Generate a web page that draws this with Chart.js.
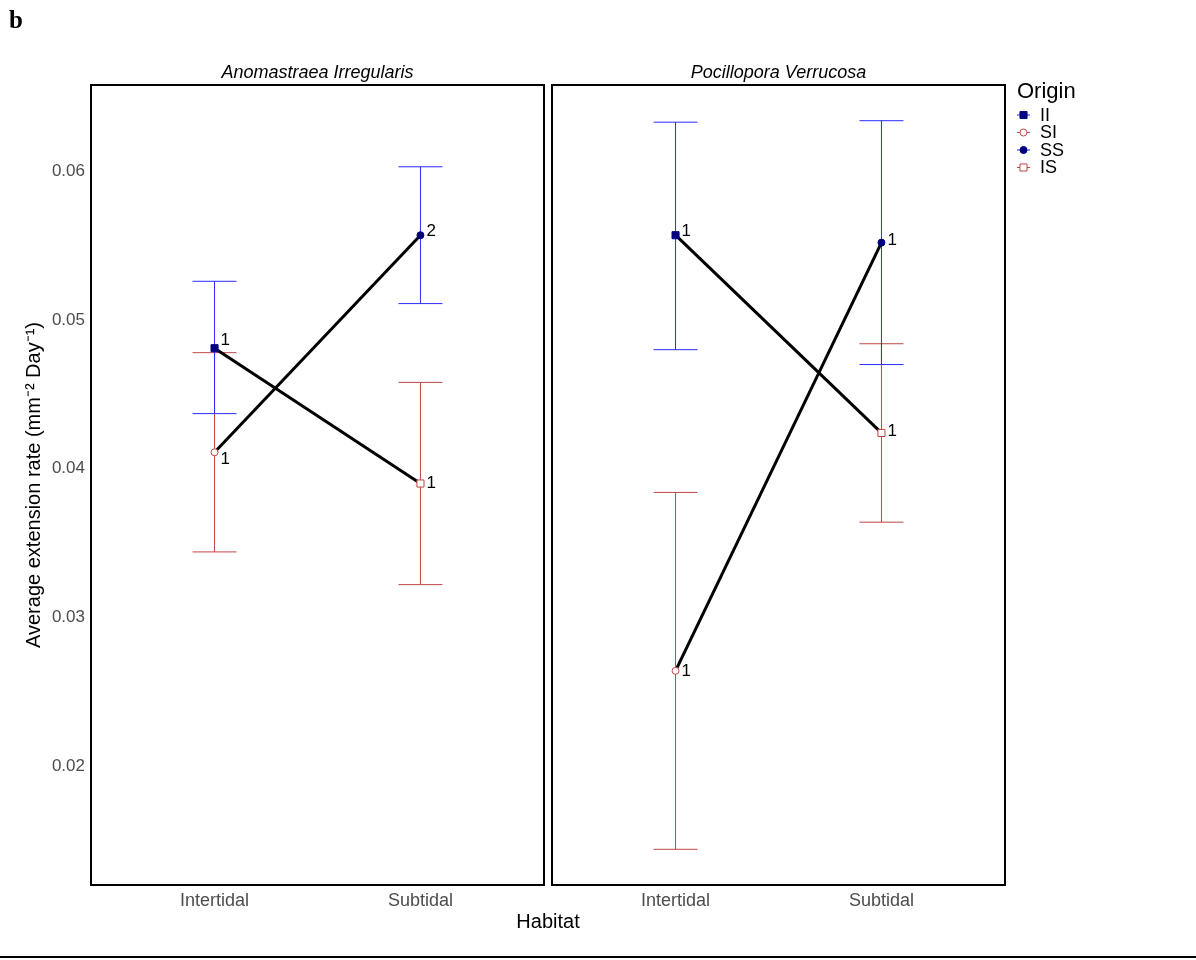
<!DOCTYPE html>
<html>
<head>
<meta charset="utf-8">
<script src="https://cdn.jsdelivr.net/npm/chart.js@4.4.1/dist/chart.umd.min.js"></script>
<style>
  html, body { margin: 0; padding: 0; background: #fff; }
  #wrap { position: relative; width: 1196px; height: 960px; }
  #wrap canvas { position: absolute; left: 0; top: 0; }
</style>
</head>
<body>
<div id="wrap">
  <canvas id="panelA" width="1196" height="960"></canvas>
  <canvas id="panelB" width="1196" height="960"></canvas>
</div>
<script>
// --- data ---
const habitats = ['Intertidal', 'Subtidal'];
const origins = ['II', 'SI', 'SS', 'IS'];
const originHabitat = [1, 1, 2, 2];      // 1 = Intertidal, 2 = Subtidal
const pairs = [[0, 3], [1, 2]];          // II -> IS, SI -> SS
const yTicks = [0.02, 0.03, 0.04, 0.05, 0.06];
const yMin = 0.0120, yMax = 0.0658;

// Anomastraea irregularis
const anoMean = [0.0481, 0.0411, 0.0557, 0.0390];
const anoLow  = [0.0437, 0.0344, 0.0511, 0.0322];
const anoHigh = [0.0526, 0.0478, 0.0603, 0.0458];
const anoN    = ['1', '1', '2', '1'];

// Pocillopora verrucosa
const pocMean = [0.0557, 0.0264, 0.0552, 0.0424];
const pocLow  = [0.0480, 0.0144, 0.0470, 0.0364];
const pocHigh = [0.0633, 0.0384, 0.0634, 0.0484];
const pocN    = ['1', '1', '1', '1'];

// --- styles ---
const BLUE = '#2b2bff', RED = '#c04646', NAVY = '#000080';
const errColor = [BLUE, RED, BLUE, RED];
const ptStyle  = ['rect', 'circle', 'circle', 'rect'];
const ptRadius = [5, 3.5, 3.5, 5];
const ptFill   = [NAVY, '#fff', NAVY, '#fff'];
const ptEdge   = [NAVY, RED, NAVY, RED];
const anoNudge = [[6, -8], [6, 7], [6, -4], [6, 0]];
const pocNudge = [[6, -4], [6, 0], [6, -2], [6, -2]];
const FONT = "'Liberation Sans', Arial, sans-serif";

function buildDatasets(mean, low, high) {
    const ds = [];
    // error bars with caps
    origins.forEach((o, i) => {
        ds.push({
            label: o + ' se',
            data: [{ x: originHabitat[i], y: low[i] }, { x: originHabitat[i], y: high[i] }],
            showLine: true,
            borderColor: errColor[i],
            borderWidth: 1,
            pointStyle: 'line',
            pointRadius: 22,
            pointBorderWidth: 1,
            pointBorderColor: errColor[i],
            order: 3
        });
    });
    // reaction norms
    pairs.forEach(([a, b]) => {
        ds.push({
            label: origins[a] + '-' + origins[b],
            data: [{ x: originHabitat[a], y: mean[a] }, { x: originHabitat[b], y: mean[b] }],
            showLine: true,
            borderColor: '#000',
            borderWidth: 3,
            pointRadius: 0,
            order: 2
        });
    });
    // means
    origins.forEach((o, i) => {
        ds.push({
            label: o,
            data: [{ x: originHabitat[i], y: mean[i] }],
            showLine: false,
            pointStyle: ptStyle[i],
            pointRadius: ptRadius[i],
            pointBackgroundColor: ptFill[i],
            pointBorderColor: ptEdge[i],
            pointBorderWidth: 1,
            order: 1,
            meanIndex: i
        });
    });
    return ds;
}

// panel frame, strip title and n labels
function panelPlugin(title, nLabels, nudge) {
    return {
        id: 'panel',
        afterDraw(chart) {
            const ctx = chart.ctx, a = chart.chartArea;
            ctx.save();
            ctx.fillStyle = '#000';
            ctx.font = '17px ' + FONT;
            ctx.textAlign = 'left';
            ctx.textBaseline = 'middle';
            chart.data.datasets.forEach((d, di) => {
                if (d.meanIndex === undefined) return;
                const p = chart.getDatasetMeta(di).data[0];
                const n = nudge[d.meanIndex];
                ctx.fillText(nLabels[d.meanIndex], p.x + n[0], p.y + n[1]);
            });
            ctx.strokeStyle = '#000';
            ctx.lineWidth = 2;
            ctx.strokeRect(a.left, a.top, a.right - a.left, a.bottom - a.top);
            ctx.font = 'italic 18px ' + FONT;
            ctx.textAlign = 'center';
            ctx.textBaseline = 'alphabetic';
            ctx.fillText(title, (a.left + a.right) / 2, a.top - 7);
            ctx.restore();
        }
    };
}

// figure-level decorations
const figurePlugin = {
    id: 'figure',
    afterDraw(chart) {
        const ctx = chart.ctx;
        ctx.save();
        ctx.fillStyle = '#000';
        ctx.font = "bold 25px 'Liberation Serif', 'Times New Roman', serif";
        ctx.textAlign = 'left';
        ctx.fillText('b', 9, 28);
        ctx.font = '20px ' + FONT;
        ctx.textAlign = 'center';
        ctx.fillText('Habitat', 548, 928);
        ctx.strokeStyle = '#000';
        ctx.lineWidth = 2;
        ctx.beginPath();
        ctx.moveTo(0, 957);
        ctx.lineTo(1196, 957);
        ctx.stroke();
        ctx.restore();
    }
};

// legend
const legendPlugin = {
    id: 'originLegend',
    afterDraw(chart) {
        const ctx = chart.ctx;
        ctx.save();
        ctx.fillStyle = '#000';
        ctx.font = '22px ' + FONT;
        ctx.textAlign = 'left';
        ctx.fillText('Origin', 1017, 98);
        ctx.font = '18px ' + FONT;
        ctx.textBaseline = 'middle';
        origins.forEach((o, i) => {
            const y = 115 + i * 17.5;
            ctx.strokeStyle = errColor[i];
            ctx.lineWidth = 1;
            ctx.beginPath();
            ctx.moveTo(1017, y);
            ctx.lineTo(1030, y);
            ctx.stroke();
            ctx.fillStyle = ptFill[i];
            ctx.strokeStyle = ptEdge[i];
            ctx.beginPath();
            if (ptStyle[i] === 'rect') {
                const s = ptRadius[i] * Math.SQRT1_2;
                ctx.rect(1023.5 - s, y - s, 2 * s, 2 * s);
            } else {
                ctx.arc(1023.5, y, ptRadius[i], 0, Math.PI * 2);
            }
            ctx.fill();
            ctx.stroke();
            ctx.fillStyle = '#000';
            ctx.fillText(o, 1040, y + 1);
        });
        ctx.restore();
    }
};

function makeChart(id, mean, low, high, title, nLabels, nudge, padding, showY, extra) {
    return new Chart(document.getElementById(id), {
        type: 'scatter',
        data: { datasets: buildDatasets(mean, low, high) },
        options: {
            responsive: false,
            animation: false,
            events: [],
            layout: { padding: padding },
            plugins: { legend: { display: false }, tooltip: { enabled: false } },
            scales: {
                x: {
                    type: 'linear', min: 0.4, max: 2.6,
                    grid: { display: false, drawTicks: false },
                    border: { display: false },
                    afterBuildTicks: s => { s.ticks = [{ value: 1 }, { value: 2 }]; },
                    afterFit: s => { s.height = 75; },
                    ticks: {
                        padding: 5, color: '#4d4d4d', font: { family: FONT, size: 18 },
                        callback: v => habitats[v - 1]
                    }
                },
                y: {
                    display: showY,
                    min: yMin, max: yMax,
                    grid: { display: false, drawTicks: false },
                    border: { display: false },
                    afterBuildTicks: s => { s.ticks = yTicks.map(v => ({ value: v })); },
                    afterFit: s => { s.width = showY ? 69 : 0; },
                    ticks: {
                        padding: 6, color: '#4d4d4d', font: { family: FONT, size: 17 },
                        callback: v => v.toFixed(2)
                    },
                    title: {
                        display: true, text: 'Average extension rate (mm⁻² Day⁻¹)',
                        color: '#000', font: { family: FONT, size: 20 }, padding: 0
                    }
                }
            }
        },
        plugins: [panelPlugin(title, nLabels, nudge)].concat(extra)
    });
}

makeChart('panelA', anoMean, anoLow, anoHigh, 'Anomastraea Irregularis', anoN, anoNudge,
    { left: 22, top: 85, right: 652, bottom: 0 }, true, [figurePlugin]);
makeChart('panelB', pocMean, pocLow, pocHigh, 'Pocillopora Verrucosa', pocN, pocNudge,
    { left: 552, top: 85, right: 191, bottom: 0 }, false, [legendPlugin]);
</script>
</body>
</html>
